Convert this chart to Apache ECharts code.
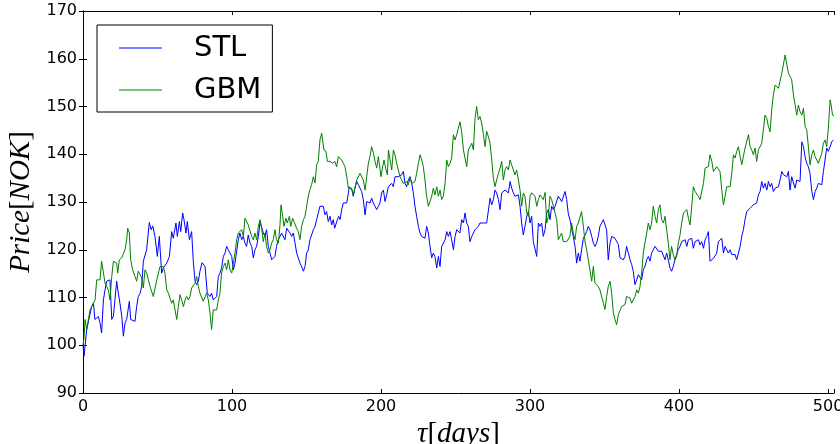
<!DOCTYPE html>
<html>
<head>
<meta charset="utf-8">
<script src="https://cdn.jsdelivr.net/npm/echarts@6/dist/echarts.min.js"></script>
<style>html,body{margin:0;padding:0;background:#fff}#c{width:840px;height:444px}</style>
</head>
<body>
<div id="c"></div>
<script>
// [day, price]
const stlData = [
[0,100],[0.7,97.7],[2.5,103.3],[5.8,108.1],[7,108.8],[8,105.4],[10.3,106],[11.4,104.7],[12.5,102.6],[13.7,109.5],[14.8,111.6],[15.9,113.4],[18.1,113.7],[19.3,105.4],[20.4,106.1],[22.6,113.4],[23.7,110.9],[24.8,108.8],[26,106.1],[27.1,101.9],[28.2,104.7],[29.3,105.4],[31.1,109.2],[32,105.4],[33.3,105.7],[34.9,105],[36,108.1],[37.1,110.2],[38.3,110.9],[39.4,112.3],[40.5,117.6],[41.6,117.9],[42.7,120],[44.5,125.7],[45.7,124.2],[46.8,125],[48.3,122.8],[49.9,118.6],[51.2,122.8],[52.8,115.1],[53.9,116.2],[55,116.5],[56.2,117.2],[58,118.6],[59.5,123.8],[60.6,122.4],[62.4,125.6],[63.3,122.8],[64.7,125.9],[65.6,123.8],[66.9,127.7],[67.8,126.3],[69.1,123.5],[70,125.9],[71.4,122.1],[72.9,123.8],[74.1,117.2],[75.2,113.4],[76.3,112.7],[77.4,113.4],[78.5,115.5],[79.9,117.3],[81,117.2],[81.9,116.5],[83.4,110.9],[85.2,110.2],[86.3,110.9],[87.4,109.5],[88.6,109.5],[89.7,110.2],[90.8,114.4],[91.9,115.1],[93,116.2],[94.2,118.6],[95.3,119.3],[96.4,120.7],[97.5,120],[98.6,119.7],[99.8,118.6],[100.9,115.8],[102,117.2],[103.1,119.7],[104.2,122.1],[105.3,123.5],[106.5,122.1],[107.6,122.8],[108.7,121.4],[109.8,120.7],[110.9,123.1],[112.1,121.4],[113.2,120.7],[114.3,118.3],[115.4,120],[116.5,120.7],[117.7,122.8],[118.8,125.9],[119.9,125.6],[121,123.5],[122.1,122.8],[123.2,124.2],[124.4,120.7],[125.5,119.3],[126.6,117.9],[127.7,117.6],[128.8,118.6],[129.9,120.7],[131.1,122.1],[132.2,122.8],[133.3,123.5],[134.4,123.1],[135.5,122.1],[136.7,124.5],[137.8,124.9],[138.9,123.5],[140,122.8],[141.1,123.5],[142.3,121.4],[143.4,119.3],[144.5,119.3],[145.6,117.2],[146.7,116.5],[147.9,115.5],[149,116.5],[150.1,119.3],[151.2,120],[152.3,122.1],[153.4,123.1],[154.6,124.2],[155.7,124.9],[156.8,126.3],[157.9,127.7],[159,129.1],[160.2,129.4],[161.3,129.1],[162.4,127.3],[163.5,128],[164.6,125.9],[165.8,127],[166.9,125.2],[168,126.3],[168.9,124.5],[169.8,124.2],[170.7,126.3],[171.6,127],[172.5,126.3],[173.6,128.4],[174.7,129.8],[175.8,129.4],[177,129.8],[178.1,131.9],[178.7,133.2],[179.6,133.2],[180.5,132.5],[181.4,131.2],[182.5,132.9],[183.7,134.3],[184.8,133.6],[185.9,133.9],[187,132.2],[188.1,130.5],[189.3,127.3],[190.4,130.1],[191.5,130.5],[192.6,129.8],[193.7,130.8],[194.9,129.8],[196,129.1],[197.1,128.4],[198.2,129.1],[199.3,129.8],[200.4,131.9],[201.6,132.5],[202.7,130.1],[203.8,131.5],[204.9,133.2],[206,133.6],[207.2,133.9],[208.3,133.2],[209.4,135.3],[210.5,135],[211.6,135.3],[212.8,135.3],[213.9,135.7],[215,136.4],[216.1,133.9],[217.2,133.2],[218.3,134.6],[219.5,135.3],[220.6,133.9],[221.7,131.9],[222.8,129.1],[223.9,127],[225.1,124.9],[226.2,123.5],[227.3,122.8],[228.4,122.8],[229.5,122.4],[230.6,124.9],[231.8,123.5],[232.9,120.7],[234,118.3],[235.1,119.3],[236.2,118.6],[237.4,116.2],[238.5,118.6],[239.6,116.5],[240.7,120.7],[241.8,120.4],[243,122.1],[244.1,123.8],[245.2,122.8],[246.3,123.8],[247.4,122.1],[248.6,120],[249.7,122.8],[250.8,124.2],[251.9,124.5],[253,123.5],[254.1,126.3],[255.3,125.6],[256.4,127.7],[257.5,125.6],[258.6,124.9],[259.7,121.7],[260.9,122.8],[262,123.5],[263.1,124.2],[264.2,124.5],[265.3,124.9],[266.4,125.6],[267.6,125.9],[268.7,125.6],[269.8,125.9],[270.9,125.6],[272,125.6],[273.2,130.8],[274.3,129.4],[275.4,130.5],[276.5,132.5],[277.6,131.9],[278.8,130.5],[279.9,128.4],[281,131.9],[282.1,131.5],[283.2,132.5],[284.3,132.9],[285.5,131.9],[286.6,134.3],[287.7,132.9],[288.8,131.9],[289.9,131.2],[291,131.2],[292.2,131.5],[293.3,129.1],[294.4,125.6],[295.5,123.1],[296.6,124.9],[297.8,127],[298.9,128],[300,125.6],[301.1,127],[302.2,121.7],[303.4,122.1],[304.5,118.6],[305.6,125.6],[306.7,124.9],[307.8,125.6],[308.9,122.8],[310.1,124.2],[311.2,127.7],[312.3,128.4],[313.4,126.3],[314.5,129.1],[315.7,128.4],[316.8,129.1],[317.9,129.1],[319,131.2],[320.1,131.5],[321.3,130.1],[322.4,130.1],[323.5,132.2],[324.6,130.5],[325.7,127.5],[326.8,126.3],[327.9,124.5],[329,122.8],[330.2,120.7],[331.3,117.2],[332.4,119.3],[333.5,117.6],[334.6,120],[335.8,122.4],[336.9,122.8],[338,123.8],[339.1,124.9],[340.2,124.2],[341.4,122.8],[342.5,121.4],[343.6,120.7],[344.7,121.4],[345.8,122.8],[346.9,124.9],[348.1,125.6],[349.2,126.3],[350.3,125.9],[351.4,124.2],[352.5,117.9],[353.7,121.4],[354.8,122.8],[355.9,122.8],[357,122.4],[358.1,122.1],[359.3,121.1],[360.4,118.3],[361.5,117.9],[362.6,117.9],[363.7,118.6],[364.8,120.7],[366,119.3],[367.1,117.9],[368.2,116.9],[369.3,115.5],[370.4,112.7],[371.6,113.7],[372.7,114.8],[373.8,114.4],[374.9,113.7],[376,115.8],[377.1,116.5],[378.3,117.9],[379.4,118.6],[380.5,117.6],[381.6,119.3],[382.7,119.7],[383.9,120.7],[385,121.1],[386.1,119.7],[387.2,119.3],[388.3,119.7],[389.5,119.3],[390.6,117.9],[391.7,119.3],[392.8,117.9],[393.9,116.2],[395,115.5],[396.1,116.5],[397.3,117.9],[398.4,119],[399.5,120],[400.6,120.7],[401.8,121.7],[402.9,121.7],[404.1,122.1],[405.2,120.7],[406.3,122.1],[407.4,121.7],[408.5,122.4],[409.6,120.3],[410.8,121.7],[411.9,121.4],[413,122.1],[414.1,121],[415.2,121.7],[416.4,120.3],[417.5,122.1],[418.6,122.8],[419.7,123.8],[420.8,117.6],[422,117.9],[423.1,118.2],[424.2,117.9],[425.3,119.3],[426.4,121.7],[427.5,122.1],[428.7,122.4],[429.8,119.3],[430.9,120.7],[432,120.3],[433.1,119.3],[434.3,120],[435.4,119],[436.5,119.3],[437.6,119],[438.7,117.9],[439.8,117.9],[441,120.7],[442.1,122.8],[443.2,124.2],[444.3,126.3],[445.4,128],[446.6,128.4],[447.7,128.7],[448.8,129.1],[449.9,129.4],[451,129.4],[452.1,129.8],[453.3,131.5],[454.4,132.2],[455.5,134.3],[456.6,132.9],[457.7,133.9],[458.9,132.5],[460,134.3],[461.1,133.2],[462.2,133.9],[463.3,132.2],[464.5,132.9],[465.6,133.2],[466.7,133.2],[467.8,134.6],[469,136.4],[470.1,135.7],[471.2,136],[472.3,135.3],[473.4,136.4],[474.5,132.5],[475.6,135.3],[476.8,135.3],[477.9,132.9],[479,134.6],[480.1,135],[481.2,134.3],[482.4,142.6],[483.5,141.6],[484.6,139.5],[485.7,138.1],[486.8,137.4],[487.9,136],[489.1,132.2],[490.2,130.5],[491.3,132.2],[492.4,132.9],[493.5,133.9],[494.7,133.9],[495.8,133.6],[496.9,136.4],[498,136.4],[499.1,141.3],[500.2,140.6],[501.4,141.6],[502.5,142.6],[503.5,143]
];
const gbmData = [
[0,100],[0.7,101.5],[1.4,105.4],[2.5,103.3],[4.7,107.4],[7,108.8],[8.1,109.5],[9.2,113.7],[10.3,114.1],[11.4,113.7],[12.5,117.6],[13.2,117.9],[14.8,113],[15.9,112.3],[17,111.6],[18.1,109.5],[19.3,114.4],[20.4,117.6],[21.5,117.4],[22.6,117.2],[23.3,115.1],[24.4,117.9],[26,118.3],[27.1,118.6],[28.2,120],[29.3,122.1],[30,124.5],[31.1,123.5],[32,117.9],[33.3,115.8],[34.9,114.4],[36,113.4],[37.1,115.5],[38.3,115.1],[39.4,114.1],[40.5,112],[41.6,115.8],[42.7,115.1],[43.9,113.7],[45,112.3],[47.2,110.2],[49.5,113.7],[51.7,116.5],[52.8,116.2],[53.9,116.5],[55,115.1],[56.2,111.6],[57.3,110.9],[58.4,111.3],[59.5,108.8],[60.6,109.5],[61.8,107.4],[62.9,105.4],[64,108.1],[65.1,110.6],[66.2,109.5],[67.4,108.1],[68.5,109.5],[69.6,110.2],[70.7,109.5],[71.8,110.2],[72.9,112],[74.1,112.3],[75.2,113],[76.3,114.4],[77.4,112.3],[78.5,110.9],[80.7,109.2],[81.9,109.5],[83,110.9],[84.1,109.5],[85.2,106.8],[86.3,103.3],[87.4,107.4],[88.6,107.8],[89.7,107.4],[90.8,109.5],[91.9,110.9],[93,115.1],[94.2,116.5],[95.3,117.2],[96.4,115.8],[97.5,117.9],[98.6,115.8],[99.8,115.1],[100.9,115.1],[102,119.3],[103.1,122.1],[104.2,123.5],[105.3,123.8],[106.5,124.2],[107.6,122.8],[108.7,126.6],[109.8,126.3],[110.9,125.2],[112.1,124.9],[113.2,122.8],[114.3,122.1],[115.4,123.5],[116.5,122.1],[117.7,124.9],[118.8,126.3],[119.9,124.5],[121,121.7],[122.1,123.5],[123.2,120.7],[124.4,119.3],[125.5,120],[126.6,121.4],[127.7,122.1],[128.8,124.2],[129.9,122.1],[131.1,121.4],[132.2,125.2],[132.9,129.4],[134,127],[134.9,124.9],[136.2,126.6],[137.1,125.6],[138.5,127],[139.4,124.9],[140.7,126.6],[141.6,125.9],[143.4,124.5],[144.5,123.8],[145.6,122.1],[146.7,124.9],[147.9,126.3],[149,127],[150.1,129.1],[151.2,131.2],[152.3,132.6],[153.4,133.6],[154.6,135.3],[155.7,134],[156.8,137.8],[157.9,138.5],[159,143],[160.2,144.4],[161.7,140.9],[163.1,140.6],[164,138.5],[165.8,138.5],[167.6,138.1],[169.1,138.5],[170.2,137.4],[171.4,139.5],[172.5,139.2],[173.6,138.8],[174.7,138.1],[175.8,137.4],[177,135.3],[178.1,132.9],[179.2,133.3],[180.3,132.9],[181.4,131.5],[182.5,131.2],[183.7,134.6],[184.8,134.3],[185.9,136],[187,135.7],[188.1,134.6],[189.3,132.5],[190.4,135.3],[191.5,138.1],[192.6,139.5],[193.7,141.6],[194.9,140.2],[196,138.5],[197.1,137.1],[198.2,139.5],[199.3,139.2],[200,135.3],[201.1,137.4],[202,138.8],[203.4,136.7],[204.3,135.7],[205,140.9],[206.1,138.8],[207.2,136.7],[208.3,140.9],[209.4,139.9],[210.5,138.1],[211.6,136.7],[212.8,135.3],[213.9,135],[215,133.9],[216.1,133.6],[217.2,134.3],[218.3,133.6],[219.5,135],[220.6,133.9],[221.7,133.6],[222.8,134.3],[223.9,136],[225.1,138.1],[226.2,139.9],[227.3,138.8],[228.4,137.4],[229.5,134.6],[230.6,131.2],[231.8,129.1],[232.9,128.7],[234,131.2],[235.1,132.9],[236.2,131.5],[237.4,133.2],[238.5,131.2],[239.6,132.5],[240.7,130.5],[241.8,131.2],[243,133.9],[244.1,138.8],[245.2,137.4],[246.3,138.1],[247.4,139.2],[248.6,144.1],[249.7,143],[250.8,144.1],[251.9,144.4],[253,146.8],[254.1,144.8],[255.3,140.9],[256.4,140.6],[257.5,137.4],[258.6,140.9],[259.7,140.9],[260.9,142.3],[262,140.9],[263.1,147.5],[264.2,150],[265.3,147.2],[266.4,147.9],[267.6,146.5],[268.7,144.1],[269.8,141.6],[270.9,144.8],[272,143.7],[273.2,142.3],[274.3,138.8],[275.4,135],[276.5,133.2],[277.6,134.6],[278.8,136],[279.9,137.1],[281,138.5],[282.1,134.6],[283.2,136.7],[284.3,137.4],[285.5,136.7],[286.6,138.8],[287.7,138.8],[288.8,136.7],[289.9,135.7],[291,136.7],[292.2,134.6],[293.3,132.5],[294.4,129.1],[295.5,131.9],[296.6,131.2],[297.8,127.7],[298.9,127],[300,131.2],[301.1,131.9],[302.2,131.9],[303.4,131.2],[304.5,129.1],[305.6,130.5],[306.7,131.5],[307.8,131.9],[308.9,130.5],[310.1,132],[311.2,125.6],[312.3,127],[313.4,131.2],[314.5,130.5],[315.7,129.1],[316.8,129.4],[317.9,126.3],[319,122.1],[320.1,122.5],[321.2,123.5],[322.3,121.7],[323.5,121.4],[324.6,121.7],[325.7,121.4],[326.8,122.8],[327.9,125.6],[329,123.5],[330.2,122.1],[331.3,124.9],[332.4,125.6],[333.5,125.2],[334.6,128],[335.8,124.9],[336.9,121.7],[338,120],[339.1,117.9],[340.2,115.8],[341.4,113.4],[342.5,116.5],[343.6,113],[344.7,113.4],[345.8,112.3],[346.9,111.6],[348.1,111.3],[349.2,108.8],[350.3,107.5],[351.4,110.2],[352.5,112.3],[353.7,113.4],[354.8,110.9],[355.9,106.8],[357,105.4],[358.1,104.3],[359.3,106.4],[360.4,106.8],[361.5,108.1],[362.6,107.8],[363.7,108.5],[364.8,110.2],[366,110.2],[367.1,109.9],[368.2,108.8],[369.3,108.8],[370.4,110.2],[371.6,111.6],[372.7,110.9],[373.8,112.3],[374.9,115.1],[376,119.3],[377.1,121.4],[378.3,123.5],[379.4,125.6],[380.5,124.2],[381.6,125.6],[382.7,129.1],[383.9,127],[385,125.6],[386.1,128.4],[387.2,129.4],[388.3,126.3],[389.5,125.6],[390.6,127],[391.7,124.2],[392.8,121.4],[393.9,117.9],[395,120.7],[396.1,119],[397.3,117.9],[398.4,118.6],[399.5,121.4],[400.6,123],[401.8,125.6],[403,127.7],[404.1,127.3],[405.2,128.4],[406.3,126.6],[407.4,125.2],[408.5,129],[409.6,133.2],[410.8,132.2],[411.9,132.2],[413,131.2],[414.1,130.5],[415.2,130.1],[416.4,133.9],[417.5,137.1],[418.6,137.1],[419.7,137.4],[420.8,139.9],[422,138.5],[423.1,136.4],[424.2,136.7],[425.3,137.4],[426.4,137.1],[427.5,136.4],[428.7,132.5],[429.8,129.4],[430.9,131.2],[432,133.2],[433.1,133.6],[434.3,133.2],[435.4,136],[436.5,139.9],[437.6,139.2],[438.7,140.6],[439.8,141.6],[441,139.5],[442.1,137.8],[443.2,137.8],[444.3,141.3],[445.4,140.9],[446.6,144.1],[447.7,141.6],[448.8,140.9],[449.9,139.9],[451,141.3],[452.1,138.5],[453.3,140.9],[454.4,141.3],[455.5,142.3],[456.6,145.1],[457.7,148.2],[458.9,147.5],[460,145.8],[461.1,144.7],[462.2,149.3],[463.3,152.4],[464.5,154.5],[465.6,154.9],[466.7,153.8],[467.8,153.5],[469,157],[470.1,157],[471.2,160.8],[472.3,160.8],[473.4,157],[474.5,156.6],[475.6,155.6],[476.8,152.4],[477.9,150.3],[479,148.2],[480.1,150.3],[481.2,148.9],[482.4,148.2],[483.5,149.6],[484.6,145.8],[485.7,145.1],[486.8,141.6],[487.9,137.8],[489.1,139.9],[490.2,140.9],[491.3,139.5],[492.4,139.5],[493.5,138.1],[494.2,137.8],[495.8,140.2],[496.9,142.3],[498,143],[499.1,141.6],[500.2,145.5],[501.4,151.4],[502.1,150.3],[503,148.2],[504,148]
];
const seriesNames = ['STL', 'GBM'];
const xTicks = [0, 100, 200, 300, 400, 500];
const yTicks = [90, 100, 110, 120, 130, 140, 150, 160, 170];

const chart = echarts.init(document.getElementById('c'), null, {renderer: 'canvas'});
const tickFont = {fontFamily: 'DejaVu Sans', fontSize: 16, color: '#000'};
const axisCommon = {
  axisLine: {show: true, lineStyle: {color: '#000', width: 1}},
  axisTick: {show: true, inside: true, length: 4, lineStyle: {color: '#000'}},
  splitLine: {show: false}
};
chart.setOption({
  animation: false,
  backgroundColor: '#fff',
  grid: {left: 83, right: 6, top: 11, bottom: 51, containLabel: false, outerBoundsMode: 'none'},
  legend: {
    data: seriesNames,
    orient: 'vertical',
    left: 97, top: 25,
    padding: [6, 11, 5, 22],
    icon: 'rect',
    itemWidth: 43, itemHeight: 1, itemGap: 8,
    borderColor: '#000', borderWidth: 1, borderRadius: 0,
    backgroundColor: '#fff',
    textStyle: {fontFamily: 'DejaVu Sans', fontSize: 29, color: '#000', lineHeight: 34, padding: [0, 0, 0, 27]}
  },
  xAxis: [
    Object.assign({}, axisCommon, {
      type: 'value', min: xTicks[0], max: 504, interval: 100, position: 'bottom',
      axisLabel: Object.assign({}, tickFont, {margin: 6, formatter: v => xTicks.includes(v) ? String(v) : ''}),
      name: '{i|τ}{n|[}{i|days}{n|]}', nameLocation: 'middle', nameGap: 23,
      nameTextStyle: {rich: {
        i: {fontFamily: 'Liberation Serif', fontStyle: 'italic', fontSize: 29, color: '#000'},
        n: {fontFamily: 'Liberation Serif', fontSize: 29, color: '#000'}
      }}
    }),
    Object.assign({}, axisCommon, {
      type: 'value', min: xTicks[0], max: 504, interval: 100, position: 'top',
      axisLabel: {show: false}
    })
  ],
  yAxis: [
    Object.assign({}, axisCommon, {
      type: 'value', min: yTicks[0], max: yTicks[yTicks.length - 1], interval: 10, position: 'left',
      axisLabel: Object.assign({}, tickFont, {margin: 6}),
      name: '{i|Price}{n|[}{i|NOK}{n|]}', nameLocation: 'middle', nameGap: 41, nameRotate: 90,
      nameTextStyle: {rich: {
        i: {fontFamily: 'Liberation Serif', fontStyle: 'italic', fontSize: 29, color: '#000'},
        n: {fontFamily: 'Liberation Serif', fontSize: 29, color: '#000'}
      }}
    }),
    Object.assign({}, axisCommon, {
      type: 'value', min: yTicks[0], max: yTicks[yTicks.length - 1], interval: 10, position: 'right',
      axisLabel: {show: false}
    })
  ],
  series: [
    {name: seriesNames[0], type: 'line', data: stlData, symbol: 'none', lineStyle: {color: '#0000ff', width: 1}, itemStyle: {color: '#0000ff'}},
    {name: seriesNames[1], type: 'line', data: gbmData, symbol: 'none', lineStyle: {color: '#008000', width: 1}, itemStyle: {color: '#008000'}}
  ]
});
</script>
</body>
</html>
